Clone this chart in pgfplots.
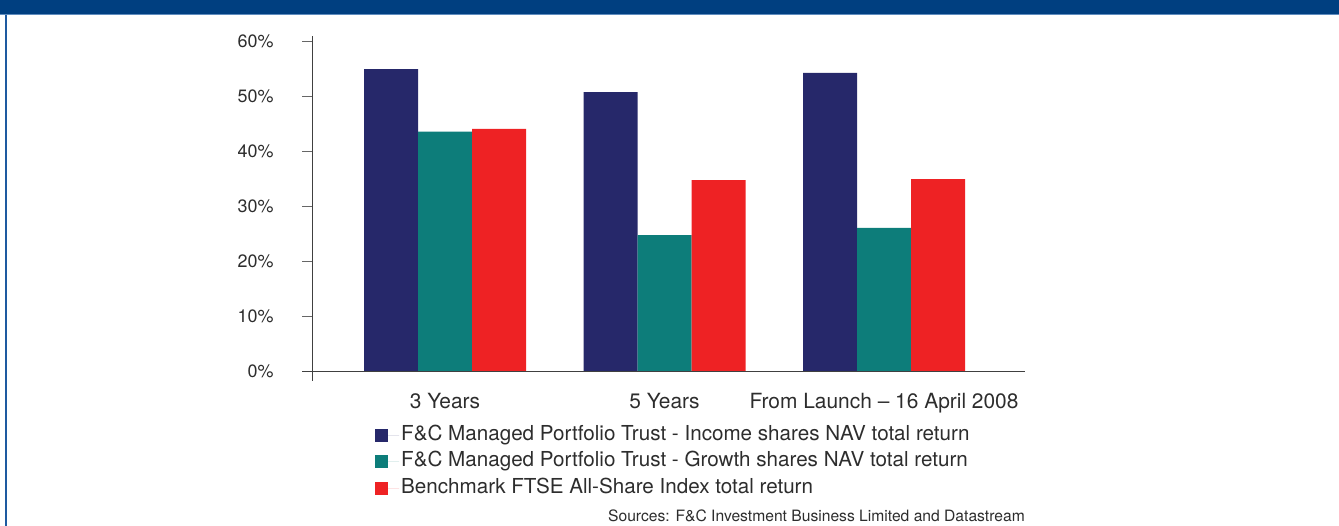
\documentclass[border=0pt]{standalone}
\usepackage{pgfplots}
\pgfplotsset{compat=1.18}
\usepackage{fontspec}
\setmainfont{TeX Gyre Heros}
\definecolor{navyb}{RGB}{38,40,106}
\definecolor{tealb}{RGB}{13,125,122}
\definecolor{redb}{RGB}{238,34,36}
\definecolor{hdr}{RGB}{0,63,128}
\definecolor{hdrline}{RGB}{95,140,190}
\definecolor{bord}{RGB}{30,90,160}
\definecolor{txt}{RGB}{45,45,45}
\begin{document}
\begin{tikzpicture}[x=1bp,y=1bp]
\path[use as bounding box] (0,0) rectangle (1339,526);
\fill[hdr] (0,512) rectangle (1339,526);
\fill[hdrline] (0,510.5) rectangle (1339,512);
\fill[bord] (4.5,0) rectangle (6.5,510.5);
\begin{axis}[
  at={(312bp,155bp)}, anchor=south west,
  scale only axis, width=713bp, height=335bp,
  xmin=-0.6059, xmax=2.6424, ymin=0, ymax=60.909,
  ybar=0pt, bar width=54bp,
  axis x line=bottom, axis y line=left,
  axis line style={-, draw=black!75, line width=0.8bp},
  x axis line style={shorten <=-10bp},
  y axis line style={shorten <=-10bp},
  xtick={0,1,2},
  xticklabels={3 Years,5 Years,From Launch -- 16 April 2008},
  x tick style={draw=none},
  ytick={0,10,20,30,40,50,60},
  yticklabels={0\%,10\%,20\%,30\%,40\%,50\%,60\%},
  y tick style={draw=black!60, line width=0.6bp},
  tick align=outside, major tick length=10bp,
  /pgf/number format/assume math mode=true,
  yticklabel style={font=\fontsize{18}{21}\selectfont, text=txt, xshift=-25bp},
  xticklabel style={font=\fontsize{21}{24}\selectfont, text=txt, yshift=-9bp},
  legend style={at={(rel axis cs:0.0884,-0.158)}, anchor=north west,
    draw=none, fill=none, font=\fontsize{20.7}{24}\selectfont, text=txt,
    inner sep=0pt, row sep=4.5bp,
    nodes={inner sep=2bp, text height=14bp, text depth=4bp}},
  legend cell align=left,
]
\addplot[fill=navyb, draw=none, legend image code/.code={\fill[navyb] (0bp,-6.5bp) rectangle (13bp,6.5bp); \path (0bp,0bp) -- (24bp,0bp);}]
  coordinates {(0,54.9) (1,50.7) (2,54.2)};
\addplot[fill=tealb, draw=none, legend image code/.code={\fill[tealb] (0bp,-6.5bp) rectangle (13bp,6.5bp); \path (0bp,0bp) -- (24bp,0bp);}]
  coordinates {(0,43.5) (1,24.7) (2,26.0)};
\addplot[fill=redb, draw=none, legend image code/.code={\fill[redb] (0bp,-6.5bp) rectangle (13bp,6.5bp); \path (0bp,0bp) -- (24bp,0bp);}]
  coordinates {(0,44.0) (1,34.7) (2,34.9)};
\legend{F\&C Managed Portfolio Trust - Income shares NAV total return,
F\&C Managed Portfolio Trust - Growth shares NAV total return,
Benchmark FTSE All-Share Index total return}
\end{axis}
\node[anchor=base east, inner sep=0pt, font=\fontsize{15.7}{18}\selectfont, text=txt] at (1025,4) {Sources: F\&C Investment Business Limited and Datastream};
\end{tikzpicture}
\end{document}
